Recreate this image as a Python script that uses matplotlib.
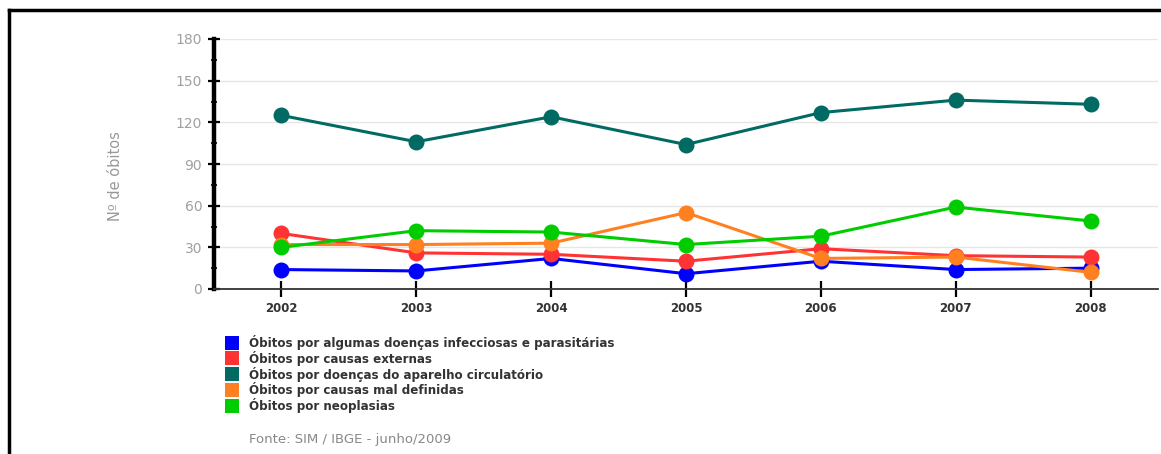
import matplotlib
matplotlib.use('Agg')
import matplotlib.pyplot as plt
from matplotlib.lines import Line2D
from matplotlib.patches import Rectangle

plt.rcParams['font.family'] = 'DejaVu Sans'

# Dados
anos = [2002, 2003, 2004, 2005, 2006, 2007, 2008]
infecciosas = [14, 13, 22, 11, 20, 14, 15]
externas = [40, 26, 25, 20, 29, 24, 23]
circulatorio = [125, 106, 124, 104, 127, 136, 133]
mal_definidas = [32, 32, 33, 55, 22, 23, 12]
neoplasias = [30, 42, 41, 32, 38, 59, 49]

series = [
    ('Óbitos por algumas doenças infecciosas e parasitárias', infecciosas, '#0000ff'),
    ('Óbitos por causas externas', externas, '#ff3333'),
    ('Óbitos por doenças do aparelho circulatório', circulatorio, '#006a63'),
    ('Óbitos por causas mal definidas', mal_definidas, '#ff8020'),
    ('Óbitos por neoplasias', neoplasias, '#00cc00'),
]

W, H = 1161, 454
fig = plt.figure(figsize=(W / 100, H / 100), dpi=100)
fig.patch.set_facecolor('white')

ax = fig.add_axes([214 / W, 1 - 289 / H, (1158 - 214) / W, (289 - 39) / H])

for nome, vals, cor in series:
    ax.plot(anos, vals, color=cor, linewidth=2.2, marker='o',
            markersize=11.5, markeredgewidth=0, clip_on=False)

ax.set_xlim(2001.5, 2008.5)
ax.set_ylim(0, 180)
ax.set_xticks(anos)
ax.set_xticklabels([str(a) for a in anos])
ax.set_yticks(range(0, 181, 30))
ax.set_yticks(range(15, 181, 30), minor=True)

ax.grid(True, axis='y', color='#e6e6e6', linewidth=1)
ax.set_axisbelow(True)
for s in ['top', 'right']:
    ax.spines[s].set_visible(False)
ax.spines['left'].set_linewidth(3.2)
ax.spines['left'].set_color('black')
ax.spines['bottom'].set_linewidth(1.3)
ax.spines['bottom'].set_color('#333333')

ax.tick_params(axis='y', which='major', direction='inout', length=9, width=1.6,
               colors='black', labelcolor='#a0a0a0', labelsize=10, pad=4)
ax.tick_params(axis='y', which='minor', direction='inout', length=5, width=1.2,
               colors='black')
ax.tick_params(axis='x', direction='inout', length=11, width=1.6,
               colors='black', labelcolor='#333333', labelsize=8.5, pad=4)
for lbl in ax.get_xticklabels():
    lbl.set_fontweight('bold')

fig.text(115 / W, 1 - 176 / H, 'Nº de óbitos', rotation=90, ha='center',
         va='center', color='#999999', fontsize=10.5)

# Legenda
y0 = 342.5
for i, (nome, vals, cor) in enumerate(series):
    yc = y0 + i * 15.8
    fig.add_artist(Rectangle((225 / W, 1 - (yc + 7) / H), 14 / W, 14 / H,
                             transform=fig.transFigure, facecolor=cor,
                             edgecolor='none'))
    fig.text(249 / W, 1 - yc / H, nome, ha='left', va='center',
             color='#333333', fontsize=8.6, fontweight='bold')

fig.text(249 / W, 1 - 440 / H, 'Fonte: SIM / IBGE - junho/2009', ha='left',
         va='center', color='#888888', fontsize=9.5)

# Moldura
fig.add_artist(Line2D([9 / W, 1], [1 - 10 / H, 1 - 10 / H],
                      transform=fig.transFigure, color='black', linewidth=2.5))
fig.add_artist(Line2D([9 / W, 9 / W], [0, 1 - 10 / H],
                      transform=fig.transFigure, color='black', linewidth=2.5))

fig.savefig('out.png', dpi=100)
